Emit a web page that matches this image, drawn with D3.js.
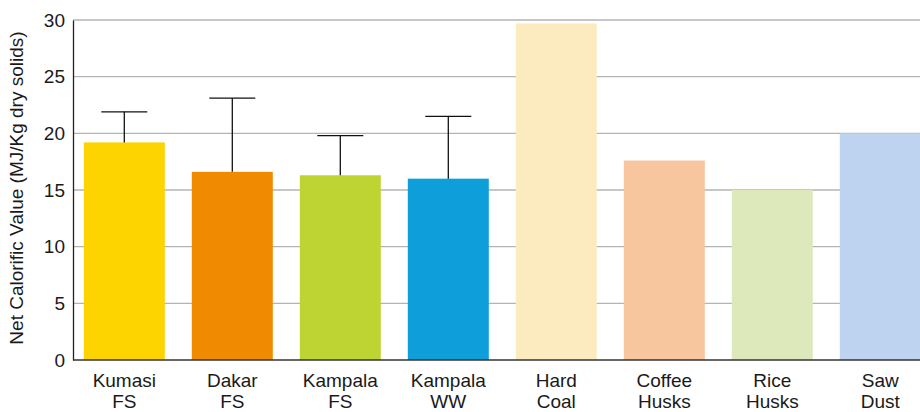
<!DOCTYPE html>
<html>
<head>
<meta charset="utf-8">
<script src="https://cdn.jsdelivr.net/npm/d3@7"></script>
<style>
  body { margin: 0; background: #fff; }
  text { font-family: "Liberation Sans", Arial, sans-serif; fill: #1a1a1a; }
</style>
</head>
<body>
<div id="chart"></div>
<script>
// chart data
var categories = ["Kumasi\nFS", "Dakar\nFS", "Kampala\nFS", "Kampala\nWW", "Hard\nCoal", "Coffee\nHusks", "Rice\nHusks", "Saw\nDust"];
var values = [19.2, 16.6, 16.3, 16.0, 29.7, 17.6, 15.0, 20.0];
var errorTops = [21.9, 23.1, 19.8, 21.5, null, null, null, null];
var colors = ["#fdd300", "#f08a00", "#bdd432", "#0e9fda", "#fdebc0", "#f8c69e", "#dde9ba", "#bed3ef"];
var yTicks = [0, 5, 10, 15, 20, 25, 30];

var svgWidth = 920;
var svgHeight = 412;

var margin = { top: 20, right: 0, bottom: 52, left: 73 };
var height = svgHeight - margin.top - margin.bottom;

var svg = d3.select("#chart")
    .append("svg")
    .attr("width", svgWidth)
    .attr("height", svgHeight);

var chartGroup = svg.append("g")
    .attr("transform", `translate(${margin.left}, ${margin.top})`);

var xScale = d3.scaleBand()
    .domain(d3.range(categories.length))
    .range([0, 858.6])
    .paddingInner(0.25)
    .paddingOuter(0.1);

var yScale = d3.scaleLinear()
    .domain([0, 30])
    .range([height, 0]);

// gridlines
chartGroup.append("g")
    .selectAll("line")
    .data(yTicks.slice(1))
    .enter()
    .append("line")
    .attr("x1", 0)
    .attr("x2", svgWidth)
    .attr("y1", d => yScale(d))
    .attr("y2", d => yScale(d))
    .attr("stroke", "#b4b4b4")
    .attr("stroke-width", 1.3);

// bars
chartGroup.selectAll("rect")
    .data(values)
    .enter()
    .append("rect")
    .attr("x", (d, i) => xScale(i))
    .attr("y", d => yScale(d))
    .attr("width", xScale.bandwidth())
    .attr("height", d => height - yScale(d))
    .attr("fill", (d, i) => colors[i]);

// error bars (upper only)
var errGroup = chartGroup.append("g")
    .selectAll("g")
    .data(errorTops.map((e, i) => ({ i: i, top: e, val: values[i] })).filter(d => d.top !== null))
    .enter()
    .append("g");

errGroup.append("line")
    .attr("x1", d => xScale(d.i) + xScale.bandwidth() / 2)
    .attr("x2", d => xScale(d.i) + xScale.bandwidth() / 2)
    .attr("y1", d => yScale(d.val))
    .attr("y2", d => yScale(d.top))
    .attr("stroke", "#111")
    .attr("stroke-width", 1.3);

errGroup.append("line")
    .attr("x1", d => xScale(d.i) + xScale.bandwidth() / 2 - 23)
    .attr("x2", d => xScale(d.i) + xScale.bandwidth() / 2 + 23)
    .attr("y1", d => yScale(d.top))
    .attr("y2", d => yScale(d.top))
    .attr("stroke", "#111")
    .attr("stroke-width", 1.3);

// y axis
var leftAxis = d3.axisLeft(yScale).tickValues(yTicks).tickSize(0).tickPadding(8);
var yAxis = chartGroup.append("g").call(leftAxis);
yAxis.select(".domain").attr("stroke", "#222").attr("stroke-width", 1.3);
yAxis.selectAll("text").style("font-size", "19px").attr("fill", "#1a1a1a");

// x axis line
chartGroup.append("line")
    .attr("x1", 0)
    .attr("x2", svgWidth)
    .attr("y1", height)
    .attr("y2", height)
    .attr("stroke", "#333")
    .attr("stroke-width", 1.5);

// x labels, two lines each
var xLabels = chartGroup.append("g")
    .selectAll("text")
    .data(categories)
    .enter()
    .append("text")
    .attr("text-anchor", "middle")
    .style("font-size", "19px")
    .attr("transform", (d, i) => `translate(${xScale(i) + xScale.bandwidth() / 2}, ${height + 27})`);

xLabels.each(function (d) {
    var parts = d.split("\n");
    var t = d3.select(this);
    parts.forEach(function (p, k) {
        t.append("tspan")
            .attr("x", 0)
            .attr("dy", k === 0 ? 0 : 21)
            .text(p);
    });
});

// y axis title
chartGroup.append("text")
    .attr("transform", "rotate(-90)")
    .attr("x", -height / 2 + 2)
    .attr("y", -50)
    .attr("text-anchor", "middle")
    .style("font-size", "19px")
    .text("Net Calorific Value (MJ/Kg dry solids)");
</script>
</body>
</html>
